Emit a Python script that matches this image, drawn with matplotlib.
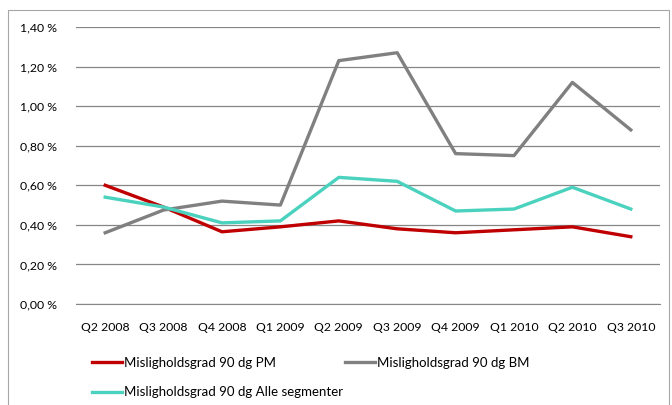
import matplotlib.pyplot as plt
from matplotlib.patches import Rectangle
from matplotlib.ticker import FuncFormatter

plt.rcParams['font.family'] = ['Lato', 'DejaVu Sans']

kvartal = ["Q2 2008", "Q3 2008", "Q4 2008", "Q1 2009", "Q2 2009",
           "Q3 2009", "Q4 2009", "Q1 2010", "Q2 2010", "Q3 2010"]

pm = [0.60, 0.49, 0.365, 0.39, 0.42, 0.38, 0.36, 0.375, 0.39, 0.34]
bm = [0.36, 0.475, 0.52, 0.50, 1.23, 1.27, 0.76, 0.75, 1.12, 0.88]
alle = [0.54, 0.49, 0.41, 0.42, 0.64, 0.62, 0.47, 0.48, 0.59, 0.48]

fig = plt.figure(figsize=(6.72, 4.05), dpi=100)
ax = fig.add_axes([76 / 672, 1 - 304 / 405, 584 / 672, 277 / 405])

# ramme rundt hele diagrammet
fig.patches.append(Rectangle((8 / 672, -0.05), 661 / 672, 1.05 - 10 / 405,
                             transform=fig.transFigure, fill=False,
                             edgecolor="#a6a6a6", linewidth=0.8))

x = range(len(kvartal))
l1, = ax.plot(x, pm, color="#c00000", linewidth=2.4, label="Misligholdsgrad 90 dg PM")
l2, = ax.plot(x, bm, color="#808080", linewidth=2.4, label="Misligholdsgrad 90 dg BM")
l3, = ax.plot(x, alle, color="#4bd2be", linewidth=2.4,
              label="Misligholdsgrad 90 dg Alle segmenter")

ax.set_xlim(-0.5, len(kvartal) - 0.5)
ax.set_ylim(0, 1.4)
ax.set_yticks([i * 0.2 for i in range(8)])
ax.yaxis.set_major_formatter(FuncFormatter(lambda v, p: f"{v:.2f} %".replace(".", ",")))
ax.set_xticks(list(x))
ax.set_xticklabels(kvartal)
ax.grid(axis="y", color="#868686", linewidth=0.9)
ax.set_axisbelow(True)
for s in ["top", "right", "left"]:
    ax.spines[s].set_visible(False)
ax.spines["bottom"].set_color("#868686")
ax.tick_params(length=0, labelsize=8.8, colors="black")
ax.tick_params(axis="x", pad=13)
ax.tick_params(axis="y", pad=14)

leg_kw = dict(loc="upper left", frameon=False, fontsize=9.5,
              handlelength=2.3, handletextpad=0.15, labelspacing=1.3,
              borderpad=0, borderaxespad=0)
fig.legend(handles=[l1, l3], bbox_to_anchor=(92 / 672, 1 - 357 / 405), **leg_kw)
fig.legend(handles=[l2], bbox_to_anchor=(345 / 672, 1 - 357 / 405), **leg_kw)

fig.savefig("out.png", dpi=100)
